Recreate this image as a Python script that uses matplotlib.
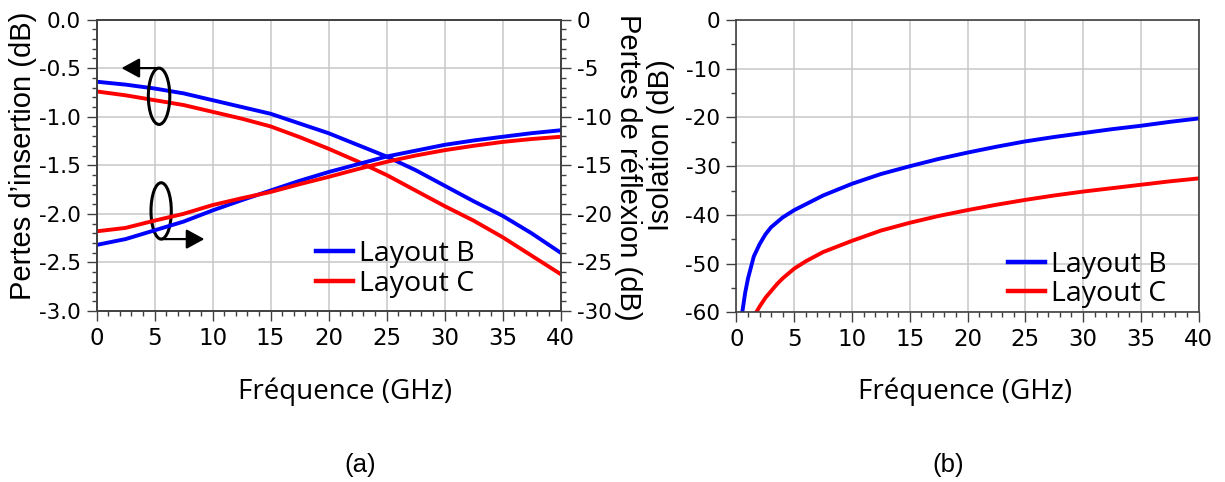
import matplotlib
matplotlib.use("Agg")
import matplotlib.pyplot as plt
from matplotlib.patches import Ellipse, FancyArrowPatch
from matplotlib.ticker import MultipleLocator, FuncFormatter
import numpy as np

plt.rcParams['axes.unicode_minus'] = False

# ---------------- data ----------------
freq_a = [0, 2.5, 5, 7.5, 10, 12.5, 15, 17.5, 20, 22.5, 25, 27.5, 30, 32.5, 35, 37.5, 40]

il_b = [-0.64, -0.67, -0.71, -0.76, -0.83, -0.90, -0.97, -1.07, -1.17, -1.29, -1.41,
        -1.55, -1.71, -1.87, -2.02, -2.20, -2.40]
il_c = [-0.74, -0.78, -0.83, -0.88, -0.95, -1.02, -1.10, -1.21, -1.33, -1.46, -1.60,
        -1.76, -1.92, -2.07, -2.24, -2.43, -2.62]

rl_b = [-23.2, -22.6, -21.7, -20.8, -19.65, -18.6, -17.6, -16.6, -15.7, -14.9, -14.1,
        -13.5, -12.9, -12.45, -12.07, -11.7, -11.4]
rl_c = [-21.8, -21.45, -20.7, -20.0, -19.1, -18.4, -17.75, -16.95, -16.2, -15.4, -14.65,
        -14.0, -13.45, -13.0, -12.6, -12.3, -12.07]

freq_iso_b = [0.5, 0.75, 1, 1.5, 2, 2.5, 3, 4, 5, 7.5, 10, 12.5, 15, 17.5, 20, 22.5,
              25, 27.5, 30, 32.5, 35, 37.5, 40]
iso_b = [-60, -56, -53, -48.5, -46, -44, -42.5, -40.5, -39, -36, -33.6, -31.6, -30.0,
         -28.5, -27.2, -26.0, -24.9, -24.0, -23.2, -22.4, -21.7, -20.9, -20.2]

freq_iso_c = [1.7, 2, 2.5, 3, 3.5, 4, 5, 6, 7.5, 10, 12.5, 15, 17.5, 20, 22.5, 25,
              27.5, 30, 32.5, 35, 37.5, 40]
iso_c = [-60, -58.8, -57, -55.6, -54.2, -53, -51, -49.5, -47.6, -45.3, -43.2, -41.6,
         -40.2, -39.0, -37.9, -36.9, -36.0, -35.2, -34.5, -33.8, -33.1, -32.5]

labels = ["Layout B", "Layout C"]
colors = ["#0000ff", "#ff0000"]

# ---------------- style ----------------
SPINE = "#404040"
GRID = "#c8c8c8"
TICKFONT_Y = dict(family="DejaVu Sans", size=15.5)
TICKFONT_X = dict(family="DejaVu Sans", size=16.5)
LABELFONT_Y = dict(family="Liberation Sans", size=21)
LABELFONT_X = dict(family="Open Sans", size=20)
LEGFONT = dict(family="Open Sans", size=20.5)
LW = 2.8

fig = plt.figure(figsize=(12.25, 4.82), dpi=100)
axL = fig.add_axes([0.0788, 0.3548, 0.3788, 0.6047])
axR = fig.add_axes([0.6012, 0.3517, 0.3772, 0.6068])


def style_ticks(ax, axis='both'):
    ax.tick_params(which='major', direction='out', length=7.5, width=1.0, color=SPINE, pad=4)
    ax.tick_params(which='minor', direction='out', length=3.8, width=1.0, color=SPINE)
    for t in ax.get_yticklabels():
        t.set_fontfamily(TICKFONT_Y['family'])
        t.set_fontsize(TICKFONT_Y['size'])
    for t in ax.get_xticklabels():
        t.set_fontfamily(TICKFONT_X['family'])
        t.set_fontsize(TICKFONT_X['size'])


def style_spines(ax):
    for s in ax.spines.values():
        s.set_color(SPINE)
        s.set_linewidth(1.2)


# ---------------- left panel (a) ----------------
axL.plot(freq_a, il_b, color=colors[0], lw=LW, label=labels[0])
axL.plot(freq_a, il_c, color=colors[1], lw=LW, label=labels[1])
axL.set_xlim(0, 40)
axL.set_ylim(-3.0, 0.0)
axL.xaxis.set_major_locator(MultipleLocator(5))
axL.xaxis.set_minor_locator(MultipleLocator(1))
axL.yaxis.set_major_locator(MultipleLocator(0.5))
axL.yaxis.set_minor_locator(MultipleLocator(0.1))
axL.yaxis.set_major_formatter(FuncFormatter(lambda v, p: f"{v:.1f}" if abs(v) > 1e-9 else "0.0"))
axL.xaxis.set_major_formatter(FuncFormatter(lambda v, p: f"{v:.0f}"))
axL.grid(True, which='major', color=GRID, lw=1.1)
axL.set_axisbelow(True)
style_spines(axL)
axL.tick_params(top=False, right=False, which='both')
style_ticks(axL)

ax2 = axL.twinx()
ax2.plot(freq_a, rl_b, color=colors[0], lw=LW)
ax2.plot(freq_a, rl_c, color=colors[1], lw=LW)
ax2.set_ylim(-30, 0)
ax2.yaxis.set_major_locator(MultipleLocator(5))
ax2.yaxis.set_minor_locator(MultipleLocator(1))
ax2.yaxis.set_major_formatter(FuncFormatter(lambda v, p: f"{v:.0f}" if abs(v) > 1e-9 else "0"))
style_spines(ax2)
style_ticks(ax2)

axL.set_ylabel("Pertes d\u2019insertion (dB)", fontdict=LABELFONT_Y, va='center')
axL.yaxis.set_label_coords(-0.158, 0.532)
ax2.set_ylabel("Pertes de r\u00e9flexion (dB)", fontdict=LABELFONT_Y, rotation=-90, va='center')
ax2.yaxis.set_label_coords(1.1455, 0.494)
axL.set_xlabel("Fr\u00e9quence (GHz)", fontdict=LABELFONT_X, va='center')
axL.xaxis.set_label_coords(0.5356, -0.278)

# annotations (ellipses + arrows) on the left panel
e1 = Ellipse((5.39, -0.79), 1.85, 0.58, fill=False, lw=2.2, color='black', zorder=5)
e2 = Ellipse((5.57, -1.97), 1.75, 0.58, fill=False, lw=2.2, color='black', zorder=5)
axL.add_patch(e1)
axL.add_patch(e2)
arrow_style = "-|>,head_length=0.55,head_width=0.3"
a1 = FancyArrowPatch((5.39, -0.50), (2.15, -0.50), arrowstyle=arrow_style, mutation_scale=20,
                     color='black', lw=1.6, shrinkA=0, shrinkB=0, zorder=5)
a2 = FancyArrowPatch((5.6, -2.26), (9.3, -2.26), arrowstyle=arrow_style, mutation_scale=20,
                     color='black', lw=1.6, shrinkA=0, shrinkB=0, zorder=5)
axL.add_patch(a1)
axL.add_patch(a2)

legL = axL.legend(loc='center left', bbox_to_anchor=(0.474, 0.145), frameon=False,
                  prop=LEGFONT, handlelength=1.3,
                  handletextpad=0.2, labelspacing=0.08, borderpad=0, borderaxespad=0)
for h in legL.get_lines():
    h.set_linewidth(3.2)

# ---------------- right panel (b) ----------------
axR.plot(freq_iso_b, iso_b, color=colors[0], lw=LW, label=labels[0])
axR.plot(freq_iso_c, iso_c, color=colors[1], lw=LW, label=labels[1])
axR.set_xlim(0, 40)
axR.set_ylim(-60, 0)
axR.xaxis.set_major_locator(MultipleLocator(5))
axR.xaxis.set_minor_locator(MultipleLocator(1))
axR.yaxis.set_major_locator(MultipleLocator(10))
axR.yaxis.set_minor_locator(MultipleLocator(5))
axR.yaxis.set_major_formatter(FuncFormatter(lambda v, p: f"{v:.0f}" if abs(v) > 1e-9 else "0"))
axR.xaxis.set_major_formatter(FuncFormatter(lambda v, p: f"{v:.0f}"))
axR.grid(True, which='major', color=GRID, lw=1.1)
axR.set_axisbelow(True)
style_spines(axR)
axR.tick_params(top=False, right=False, which='both')
style_ticks(axR)
axR.set_ylabel("Isolation (dB)", fontdict=LABELFONT_Y, va='center')
axR.yaxis.set_label_coords(-0.1634, 0.5726)
axR.set_xlabel("Fr\u00e9quence (GHz)", fontdict=LABELFONT_X, va='center')
axR.xaxis.set_label_coords(0.4946, -0.272)

legR = axR.legend(loc='center left', bbox_to_anchor=(0.588, 0.113), frameon=False,
                  prop=LEGFONT, handlelength=1.3,
                  handletextpad=0.2, labelspacing=0.05, borderpad=0, borderaxespad=0)
for h in legR.get_lines():
    h.set_linewidth(3.2)

fig.text(0.2939, 0.0353, "(a)", family="Liberation Sans", size=18.5, ha='center', va='center')
fig.text(0.7739, 0.0353, "(b)", family="Liberation Sans", size=18.5, ha='center', va='center')

fig.savefig("out.png", dpi=100)
